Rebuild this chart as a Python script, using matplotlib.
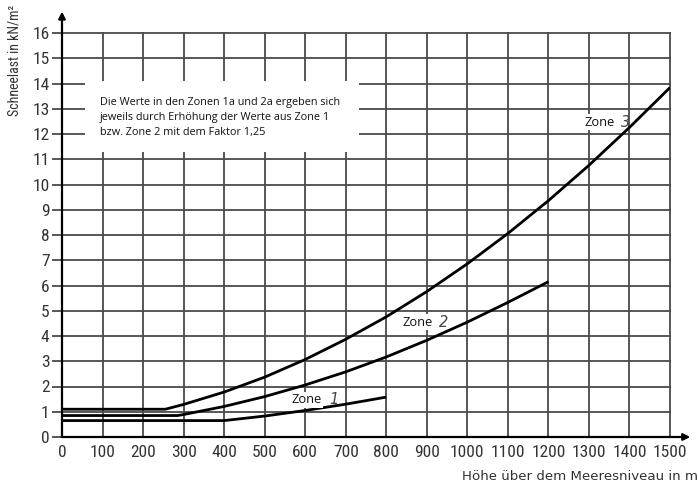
import matplotlib
matplotlib.use("Agg")
import matplotlib.pyplot as plt
from matplotlib.patches import Rectangle
from matplotlib import font_manager

# ---- data ----
zone1_x = [0, 400, 500, 600, 700, 800]
zone1_y = [0.65, 0.65, 0.83, 1.05, 1.30, 1.58]

zone2_x = [0, 285, 300, 400, 500, 600, 700, 800, 900, 1000, 1100, 1200]
zone2_y = [0.85, 0.85, 0.89, 1.21, 1.60, 2.06, 2.58, 3.17, 3.83, 4.55, 5.33, 6.15]

zone3_x = [0, 255, 300, 400, 500, 600, 700, 800, 900, 1000, 1100, 1200, 1300, 1400, 1500]
zone3_y = [1.10, 1.10, 1.29, 1.78, 2.37, 3.07, 3.87, 4.76, 5.76, 6.86, 8.06, 9.36, 10.76, 12.26, 13.84]

x_ticks = list(range(0, 1600, 100))
y_ticks = list(range(0, 17))

note_text = ("Die Werte in den Zonen 1a und 2a ergeben sich\n"
             "jeweils durch Erhöhung der Werte aus Zone 1\n"
             "bzw. Zone 2 mit dem Faktor 1,25")
x_label = "Höhe über dem Meeresniveau in m"
y_label = "Schneelast in kN/m²"

# pick a condensed face if one is installed
names = {f.name for f in font_manager.fontManager.ttflist}
cond = None
for cand in ["Liberation Sans Narrow", "DejaVu Sans Condensed", "Roboto Condensed",
             "Open Sans Condensed", "Noto Sans Condensed"]:
    if cand in names:
        cond = cand
        break
cond_stretch = any(("DejaVu Sans" == f.name and f.stretch in ("condensed", "semi-condensed", 87.5, 75))
                   for f in font_manager.fontManager.ttflist)
if cond:
    tick_kw = dict(family=cond)
    tick_size = 12.5
elif cond_stretch:
    tick_kw = dict(family="DejaVu Sans", stretch="condensed")
    tick_size = 12.5
else:
    tick_kw = dict(family="DejaVu Sans")
    tick_size = 10


def style_cond(t):
    t.set_family(tick_kw["family"])
    if "stretch" in tick_kw:
        t.set_stretch(tick_kw["stretch"])


# ---- figure ----
W, H = 698, 491
fig = plt.figure(figsize=(W / 100, H / 100), dpi=100)
ax_l, ax_r, ax_b, ax_t = 62, 670, 437, 33
ax = fig.add_axes([ax_l / W, 1 - ax_b / H, (ax_r - ax_l) / W, (ax_b - ax_t) / H])
ax.set_xlim(0, 1500)
ax.set_ylim(0, 16)

grid_col = "#4a4a4a"
for s in ax.spines.values():
    s.set_visible(False)

# grid
for xv in x_ticks[1:]:
    ax.plot([xv, xv], [0, 16], color=grid_col, lw=1.3, zorder=1, clip_on=False)
for yv in y_ticks[1:]:
    ax.plot([0, 1500], [yv, yv], color=grid_col, lw=1.3, zorder=1, clip_on=False)

# axes with arrows
ax.annotate("", xy=(0, 16.85), xytext=(0, 0), xycoords="data",
            arrowprops=dict(arrowstyle="-|>", color="black", lw=1.6,
                            mutation_scale=10, shrinkA=0, shrinkB=0),
            annotation_clip=False, zorder=5)
ax.annotate("", xy=(1550, 0), xytext=(0, 0), xycoords="data",
            arrowprops=dict(arrowstyle="-|>", color="black", lw=1.6,
                            mutation_scale=10, shrinkA=0, shrinkB=0),
            annotation_clip=False, zorder=5)

# curves
for xs, ys in [(zone1_x, zone1_y), (zone2_x, zone2_y), (zone3_x, zone3_y)]:
    ax.plot(xs, ys, color="black", lw=2.0, zorder=4, solid_capstyle="butt")

# ticks
ax.set_xticks(x_ticks)
ax.set_yticks(y_ticks)
ax.set_xticklabels([str(v) for v in x_ticks])
ax.set_yticklabels([str(v) for v in y_ticks])
ax.tick_params(axis="x", length=0, pad=6, labelsize=tick_size, labelcolor="#333333")
ax.tick_params(axis="y", length=7, width=1.3, color=grid_col, pad=2,
               labelsize=tick_size, labelcolor="#333333")
for lab in ax.get_xticklabels() + ax.get_yticklabels():
    style_cond(lab)

# axis labels
fig.text(462 / W, 1 - 477 / H, x_label, ha="left", va="center",
         fontsize=9.6, color="#333333", family="DejaVu Sans")
yl = fig.text(15 / W, 1 - 60 / H, y_label, ha="center", va="center", rotation=90,
              fontsize=10, color="#333333")
style_cond(yl)

# note box
ax.add_patch(Rectangle((57, 11.3), 675, 2.8, facecolor="white", edgecolor="none",
                       zorder=6, clip_on=False))
ax.text(94, 13.45, note_text, ha="left", va="top", fontsize=7.8,
        family="Open Sans", color="#111111", linespacing=1.45, zorder=7)

# zone labels
zone_labels = [("1", 567, 1.47), ("2", 839, 4.55), ("3", 1288, 12.47)]
for num, zx, zy in zone_labels:
    ax.text(zx, zy, "Zone", ha="left", va="center", fontsize=9.3, family="Open Sans",
            color="#111111", zorder=7,
            bbox=dict(facecolor="white", edgecolor="none", pad=0.8))
    ax.text(zx + 92, zy, num, ha="left", va="center", fontsize=10.5, style="italic",
            family="DejaVu Sans", color="#444444", zorder=7)

fig.savefig("out.png", dpi=100)
